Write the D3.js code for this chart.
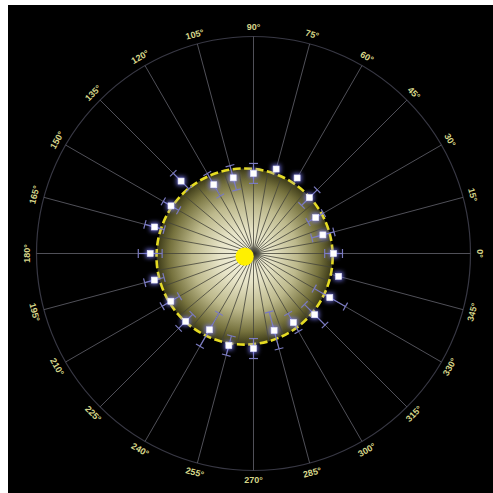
<!DOCTYPE html>
<html>
<head>
<meta charset="utf-8">
<script src="https://cdn.jsdelivr.net/npm/d3@7/dist/d3.min.js"></script>
<style>
  html, body { margin: 0; padding: 0; background: #ffffff; }
  svg { display: block; }
</style>
</head>
<body>
<svg id="chart" width="493" height="493"></svg>
<script>
// Polar angles (degrees) of the measurement directions
const angles = [0, 15, 30, 45, 60, 75, 90, 105, 120, 135, 150, 165,
                180, 195, 210, 225, 240, 255, 270, 285, 300, 315, 330, 345];
// Measured radius at each angle (outer ring = 1)
const radii = [0.369, 0.331, 0.331, 0.364, 0.402, 0.403, 0.369, 0.361, 0.366, 0.472, 0.439, 0.472,
               0.476, 0.473, 0.440, 0.442, 0.406, 0.439, 0.438, 0.367, 0.367, 0.399, 0.406, 0.406];
// Half-width of the uncertainty on each radius
const errors = [0.041, 0.053, 0.041, 0.051, 0.000, 0.000, 0.046, 0.058, 0.060, 0.051, 0.041, 0.046,
                0.055, 0.046, 0.046, 0.046, 0.088, 0.046, 0.046, 0.088, 0.048, 0.067, 0.083, 0.000];
// Angle tick labels
const tickAngles = d3.range(0, 360, 15);
const tickLabels = tickAngles.map(a => a + "°");
// Inner spokes every 10 degrees
const spokeAngles = d3.range(0, 360, 10);
// Reference disk: centre offset (x right, y up) and radius, same units as radii
const diskCenter = [-0.041, -0.014];
const diskRadius = 0.406;
const sunRadius = 0.042;

const svg = d3.select("#chart");
const cx = 253.5, cy = 253.5;
const R = 217;
const r = d3.scaleLinear().domain([0, 1]).range([0, R]);
const ang = d3.scaleLinear().domain([0, 360]).range([0, 2 * Math.PI]);
const px = (rad, a) => cx + r(rad) * Math.cos(ang(a));
const py = (rad, a) => cy - r(rad) * Math.sin(ang(a));

const defs = svg.append("defs");
const grad = defs.append("radialGradient").attr("id", "diskGrad")
  .attr("cx", "50%").attr("cy", "50%").attr("r", "50%");
[[0, "#f6f4e2"], [0.3, "#e6e3c6"], [0.6, "#bdb98c"], [0.85, "#76723e"], [1, "#3a3816"]]
  .forEach(([o, c]) => grad.append("stop").attr("offset", o).attr("stop-color", c));

const spot = defs.append("radialGradient").attr("id", "spotGrad");
[[0, "#2e2e28", 1], [0.6, "#55554a", 0.8], [1, "#888870", 0]]
  .forEach(([o, c, op]) => spot.append("stop").attr("offset", o).attr("stop-color", c).attr("stop-opacity", op));

const glow = defs.append("filter").attr("id", "glow")
  .attr("x", "-150%").attr("y", "-150%").attr("width", "400%").attr("height", "400%");
glow.append("feGaussianBlur").attr("in", "SourceGraphic").attr("stdDeviation", 2.2);

const dcx = cx + r(diskCenter[0]), dcy = cy - r(diskCenter[1]);
defs.append("clipPath").attr("id", "diskClip")
  .append("circle").attr("cx", dcx).attr("cy", dcy).attr("r", r(diskRadius));

// Background
svg.append("rect").attr("x", 8).attr("y", 5).attr("width", 485).attr("height", 488).attr("fill", "#000");

// Outer ring
svg.append("circle").attr("cx", cx).attr("cy", cy).attr("r", R)
  .attr("fill", "none").attr("stroke", "#383844").attr("stroke-width", 1.2);

// Outer spokes
svg.append("g").selectAll("line").data(tickAngles).join("line")
  .attr("x1", cx).attr("y1", cy)
  .attr("x2", a => px(1, a)).attr("y2", a => py(1, a))
  .attr("stroke", "#505058").attr("stroke-width", 1);

// Reference disk
svg.append("circle").attr("cx", dcx).attr("cy", dcy).attr("r", r(diskRadius))
  .attr("fill", "url(#diskGrad)");

// Inner spokes
svg.append("g").attr("clip-path", "url(#diskClip)")
  .selectAll("line").data(spokeAngles).join("line")
  .attr("x1", cx).attr("y1", cy)
  .attr("x2", a => px(0.6, a)).attr("y2", a => py(0.6, a))
  .attr("stroke", "#44443a").attr("stroke-width", 1).attr("stroke-opacity", 0.8);

// Convergence shading
svg.append("circle").attr("cx", cx + 1).attr("cy", cy).attr("r", 8).attr("fill", "url(#spotGrad)");

// Dashed boundary
svg.append("circle").attr("cx", dcx).attr("cy", dcy).attr("r", r(diskRadius))
  .attr("fill", "none").attr("stroke", "#e6dc22").attr("stroke-width", 2.6)
  .attr("stroke-dasharray", "8,3.5");

// Central source
svg.append("circle").attr("cx", dcx).attr("cy", dcy).attr("r", r(sunRadius)).attr("fill", "#fff000");

// Error bars
const pts = angles.map((a, i) => ({ a, v: radii[i], e: errors[i] }));
const eb = svg.append("g").attr("stroke", "#7b7bc0").attr("stroke-width", 1.2).attr("fill", "none");
pts.filter(d => d.e > 0).forEach(d => {
  const lo = d.v - d.e, hi = d.v + d.e;
  eb.append("line").attr("x1", px(lo, d.a)).attr("y1", py(lo, d.a))
    .attr("x2", px(hi, d.a)).attr("y2", py(hi, d.a));
  const tx = -Math.sin(ang(d.a)) * 4.5, ty = -Math.cos(ang(d.a)) * 4.5;
  [lo, hi].forEach(v => {
    eb.append("line")
      .attr("x1", px(v, d.a) - tx).attr("y1", py(v, d.a) - ty)
      .attr("x2", px(v, d.a) + tx).attr("y2", py(v, d.a) + ty);
  });
});

// Markers
const mk = svg.append("g");
mk.selectAll("rect.halo").data(pts).join("rect").attr("class", "halo")
  .attr("x", d => px(d.v, d.a) - 4.5).attr("y", d => py(d.v, d.a) - 4.5)
  .attr("width", 9).attr("height", 9)
  .attr("fill", "#8080ff").attr("fill-opacity", 0.8).attr("filter", "url(#glow)");
mk.selectAll("rect.core").data(pts).join("rect").attr("class", "core")
  .attr("x", d => px(d.v, d.a) - 3).attr("y", d => py(d.v, d.a) - 3)
  .attr("width", 6).attr("height", 6)
  .attr("fill", "#ffffff").attr("stroke", "#e4e4ff").attr("stroke-width", 0.6);

// Angle labels
svg.append("g").selectAll("text").data(tickAngles).join("text")
  .attr("transform", a => {
    const x = px(1.045, a), y = py(1.045, a);
    const rot = (a > 180 && a < 360) ? 270 - a : 90 - a;
    return `translate(${x},${y}) rotate(${rot})`;
  })
  .attr("text-anchor", "middle").attr("dominant-baseline", "central")
  .attr("font-family", "'Liberation Sans', Arial, sans-serif").attr("font-size", 9)
  .attr("font-weight", "bold")
  .attr("fill", "#d6d68a")
  .text((a, i) => tickLabels[i]);
</script>
</body>
</html>
